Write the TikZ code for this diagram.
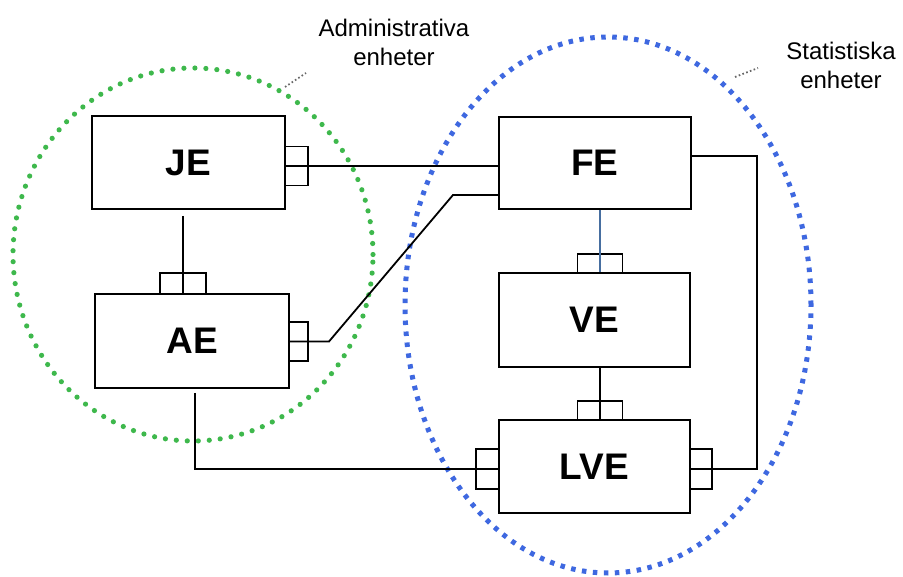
\documentclass[tikz,border=0pt]{standalone}
\usepackage{fontspec}
\setmainfont{Liberation Sans}
\definecolor{admingreen}{RGB}{62,184,76}
\definecolor{statblue}{RGB}{62,104,224}
\definecolor{steel}{RGB}{70,110,160}
\begin{document}
\begin{tikzpicture}[x=1pt,y=-1pt,
  unitbox/.style={draw=black, line width=2pt, fill=white, inner sep=0pt,
    font=\fontsize{37}{40}\selectfont\bfseries},
  port/.style={draw=black, line width=1.7pt, fill=white, inner sep=0pt},
  link/.style={draw=black, line width=1.8pt},
  grouplabel/.style={align=center, inner sep=0pt, font=\fontsize{24}{29}\selectfont},
  leader/.style={draw=black!60, line width=1.8pt, dash pattern=on 1.6pt off 2.4pt},
  adminring/.style={draw=admingreen, line width=5.2pt, line cap=round, dash pattern=on 0pt off 11pt},
  statring/.style={draw=statblue, line width=5pt, dash pattern=on 4.5pt off 6.5pt}
]
\useasboundingbox (0,0) rectangle (903,577);

% group outlines
\draw[adminring] (193,254.5) ellipse [x radius=180pt, y radius=186.5pt];
\draw[statring] (608,305) ellipse [x radius=203pt, y radius=268pt];

% group labels with their leaders
\node[grouplabel, anchor=north] (adminlabel) at (394,18.5) {Administrativa\\enheter};
\node[grouplabel, anchor=north] (statlabel) at (841,41.5) {Statistiska\\enheter};
\coordinate (adminTip) at (285,87);
\coordinate (adminEnd) at (306,73);
\coordinate (statTip) at (735,77);
\coordinate (statEnd) at (758,68);
\draw[leader] (adminTip) -- (adminEnd);
\draw[leader] (statTip) -- (statEnd);

% units
\node[unitbox, minimum width=193pt, minimum height=93pt] (je)  at (188.5,162.5) {JE};
\node[unitbox, minimum width=194pt, minimum height=94pt] (ae)  at (192,341) {AE};
\node[unitbox, minimum width=192pt, minimum height=92pt] (fe)  at (595,163) {FE};
\node[unitbox, minimum width=191pt, minimum height=94pt] (ve)  at (594.5,320) {VE};
\node[unitbox, minimum width=191pt, minimum height=93pt] (lve) at (594.5,466.5) {LVE};

% connection ports
\node[port, minimum width=23pt, minimum height=39pt] (jeR)  at (296.5,166) {};
\node[port, minimum width=46pt, minimum height=21pt] (aeT)  at (183,283.5) {};
\node[port, minimum width=19pt, minimum height=39pt] (aeR)  at (298.5,341.5) {};
\node[port, minimum width=45pt, minimum height=19pt] (veT)  at (600,263.5) {};
\node[port, minimum width=45pt, minimum height=19pt] (lveT) at (600,410.5) {};
\node[port, minimum width=23pt, minimum height=40pt] (lveL) at (487.5,469) {};
\node[port, minimum width=22pt, minimum height=40pt] (lveR) at (701,469) {};

% bends of the connectors
\coordinate (aeJog) at (329,341.5);
\coordinate (feJog) at (453,195);
\coordinate (eastRail) at (757,156);
\coordinate (southRail) at (195,469);

% connectors
\draw[link] (jeR.west) -- (jeR.west -| fe.west);
\draw[link, shorten <=6pt] (aeT.center |- je.south) -- (aeT.center |- ae.north);
\draw[link] ([yshift=1pt]aeT.south) -- ([xshift=23pt,yshift=1pt]aeT.south east);
\draw[link] (aeR.west) -- (aeJog) -- (feJog) -- (feJog -| fe.west);
\draw[link, draw=steel] (veT.center |- fe.south) -- (veT.center |- ve.north);
\draw[link] (lveT.center |- ve.south) -- (lveT.center |- lve.north);
\draw[link] (eastRail -| fe.east) -- (eastRail) -- (eastRail |- lveR.center) -- (lveR.west);
\draw[link, shorten <=4pt] (southRail |- ae.south) -- (southRail) -- (lveL.east);
\end{tikzpicture}
\end{document}
